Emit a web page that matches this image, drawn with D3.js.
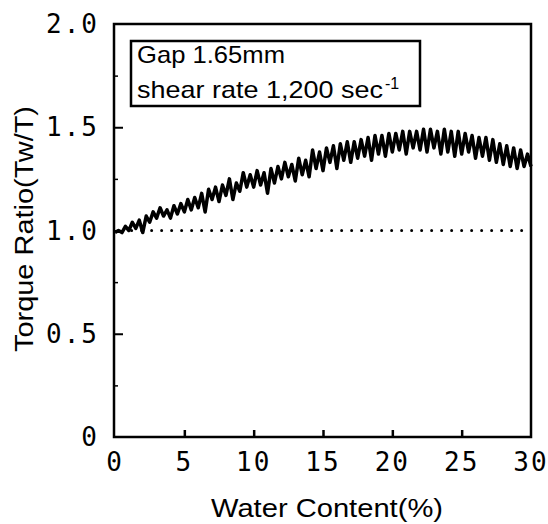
<!DOCTYPE html>
<html>
<head>
<meta charset="utf-8">
<script src="https://cdn.jsdelivr.net/npm/d3@7"></script>
<style>
  body { margin: 0; background: #fff; }
  svg { display: block; }
</style>
</head>
<body>
<div id="chart"></div>
<script>
// water content (%) sampled along the trace
var waterContent = [
  0, 0.25, 0.5, 0.75, 1, 1.25, 1.5, 1.75, 2, 2.25, 2.5, 2.75,
  3, 3.25, 3.5, 3.75, 4, 4.25, 4.5, 4.75, 5, 5.25, 5.5, 5.75,
  6, 6.25, 6.5, 6.75, 7, 7.25, 7.5, 7.75, 8, 8.25, 8.5, 8.75,
  9, 9.25, 9.5, 9.75, 10, 10.25, 10.5, 10.75, 11, 11.25, 11.5, 11.75,
  12, 12.25, 12.5, 12.75, 13, 13.25, 13.5, 13.75, 14, 14.25, 14.5, 14.75,
  15, 15.25, 15.5, 15.75, 16, 16.25, 16.5, 16.75, 17, 17.25, 17.5, 17.75,
  18, 18.25, 18.5, 18.75, 19, 19.25, 19.5, 19.75, 20, 20.25, 20.5, 20.75,
  21, 21.25, 21.5, 21.75, 22, 22.25, 22.5, 22.75, 23, 23.25, 23.5, 23.75,
  24, 24.25, 24.5, 24.75, 25, 25.25, 25.5, 25.75, 26, 26.25, 26.5, 26.75,
  27, 27.25, 27.5, 27.75, 28, 28.25, 28.5, 28.75, 29, 29.25, 29.5, 29.75,
  30
];

// torque ratio Tw/T
var torqueRatio = [
  0.99, 1.00, 0.99, 1.02, 1.00, 1.04, 1.01, 1.05, 0.99, 1.07, 1.04, 1.09,
  1.06, 1.11, 1.07, 1.10, 1.06, 1.12, 1.08, 1.13, 1.09, 1.15, 1.10, 1.16,
  1.11, 1.18, 1.09, 1.20, 1.15, 1.21, 1.14, 1.22, 1.17, 1.25, 1.15, 1.23,
  1.19, 1.28, 1.21, 1.27, 1.21, 1.29, 1.22, 1.28, 1.18, 1.30, 1.23, 1.31,
  1.25, 1.33, 1.26, 1.32, 1.24, 1.35, 1.27, 1.34, 1.26, 1.39, 1.30, 1.38,
  1.29, 1.40, 1.33, 1.41, 1.30, 1.42, 1.34, 1.43, 1.33, 1.43, 1.35, 1.44,
  1.36, 1.45, 1.34, 1.46, 1.37, 1.46, 1.36, 1.47, 1.38, 1.47, 1.39, 1.48,
  1.37, 1.48, 1.40, 1.48, 1.39, 1.49, 1.38, 1.49, 1.40, 1.48, 1.37, 1.49,
  1.38, 1.48, 1.36, 1.48, 1.37, 1.47, 1.38, 1.46, 1.35, 1.45, 1.36, 1.45,
  1.34, 1.44, 1.33, 1.42, 1.32, 1.41, 1.31, 1.40, 1.30, 1.39, 1.31, 1.37,
  1.31
];

// dotted reference line at ratio 1.0
var refLine = [[1.2, 1.0], [30, 1.0]];

var xTicks = [0, 5, 10, 15, 20, 25, 30];
var yTicks = [0, 0.5, 1.0, 1.5, 2.0];
var yTickLabels = ["0", "0.5", "1.0", "1.5", "2.0"];
var yMinorTicks = [0.25, 0.75, 1.25, 1.75];

var legendLines = ["Gap 1.65mm", "shear rate 1,200 sec"];

var W = 548, H = 524;

var svg = d3.select("#chart")
    .append("svg")
    .attr("width", W)
    .attr("height", H);

var x = d3.scaleLinear().domain([0, 30]).range([115, 531]);
var y = d3.scaleLinear().domain([0, 2]).range([437, 24]);

var tickFont = "'DejaVu Sans Mono', monospace";
var textFont = "'Liberation Sans', Arial, sans-serif";

// frame
svg.append("rect")
    .attr("x", x(0) - 1)
    .attr("y", y(2))
    .attr("width", x(30) - x(0) + 1)
    .attr("height", y(0) - y(2))
    .attr("fill", "none")
    .attr("stroke", "#000")
    .attr("stroke-width", 2.5);

// y axis: inward ticks
var yAxis = svg.append("g")
    .attr("transform", "translate(" + (x(0) - 1) + ",0)")
    .call(d3.axisRight(y).tickValues([0.5, 1.0, 1.5]).tickSize(9).tickFormat(""));
yAxis.select(".domain").remove();
yAxis.selectAll("line").attr("stroke-width", 2);

var yMinor = svg.append("g")
    .attr("transform", "translate(" + (x(0) - 1) + ",0)")
    .call(d3.axisRight(y).tickValues(yMinorTicks).tickSize(4).tickFormat(""));
yMinor.select(".domain").remove();
yMinor.selectAll("line").attr("stroke-width", 1.5);

// x axis: inward ticks
var xAxis = svg.append("g")
    .attr("transform", "translate(0," + y(0) + ")")
    .call(d3.axisTop(x).tickValues([5, 10, 15, 20, 25]).tickSize(7).tickFormat(""));
xAxis.select(".domain").remove();
xAxis.selectAll("line").attr("stroke-width", 2.5);

// tick labels
svg.append("g").selectAll("text")
    .data(yTicks)
    .enter()
    .append("text")
    .attr("x", 99)
    .attr("y", function (d) { return y(d) + 9; })
    .attr("text-anchor", "end")
    .style("font-family", tickFont)
    .style("font-size", "26px")
    .style("letter-spacing", "2px")
    .text(function (d, i) { return yTickLabels[i]; });

svg.append("g").selectAll("text")
    .data(xTicks)
    .enter()
    .append("text")
    .attr("x", function (d) { return x(d); })
    .attr("y", 471)
    .attr("text-anchor", "middle")
    .style("font-family", tickFont)
    .style("font-size", "26px")
    .style("letter-spacing", "2px")
    .text(function (d) { return d; });

// axis titles
svg.append("text")
    .attr("transform", "translate(33,229) rotate(-90)")
    .attr("text-anchor", "middle")
    .attr("textLength", 246)
    .attr("lengthAdjust", "spacingAndGlyphs")
    .style("font-family", textFont)
    .style("font-size", "25px")
    .text("Torque Ratio(Tw/T)");

svg.append("text")
    .attr("x", 327)
    .attr("y", 517)
    .attr("text-anchor", "middle")
    .attr("textLength", 232)
    .attr("lengthAdjust", "spacingAndGlyphs")
    .style("font-family", textFont)
    .style("font-size", "25px")
    .text("Water Content(%)");

// legend box
var legend = svg.append("g");
legend.append("rect")
    .attr("x", 131)
    .attr("y", 41)
    .attr("width", 289)
    .attr("height", 65)
    .attr("fill", "#fff")
    .attr("stroke", "#000")
    .attr("stroke-width", 2.5);

legend.append("text")
    .attr("x", 137)
    .attr("y", 63)
    .attr("textLength", 148)
    .attr("lengthAdjust", "spacingAndGlyphs")
    .style("font-family", textFont)
    .style("font-size", "24px")
    .text(legendLines[0]);

legend.append("text")
    .attr("x", 137)
    .attr("y", 98)
    .attr("textLength", 246)
    .attr("lengthAdjust", "spacingAndGlyphs")
    .style("font-family", textFont)
    .style("font-size", "24px")
    .text(legendLines[1]);
legend.append("text")
    .attr("x", 385)
    .attr("y", 89)
    .style("font-family", textFont)
    .style("font-size", "16px")
    .text("-1");

// reference line (dotted)
svg.append("path")
    .datum(refLine)
    .attr("fill", "none")
    .attr("stroke", "#000")
    .attr("stroke-width", 3)
    .attr("stroke-linecap", "round")
    .attr("stroke-dasharray", "0,10")
    .attr("d", d3.line()
        .x(function (d) { return x(d[0]); })
        .y(function (d) { return y(d[1]); }));

// torque trace
var trace = waterContent.map(function (w, i) { return { w: w, r: torqueRatio[i] }; });
svg.append("path")
    .datum(trace)
    .attr("fill", "none")
    .attr("stroke", "#000")
    .attr("stroke-width", 3.5)
    .attr("stroke-linejoin", "round")
    .attr("d", d3.line()
        .x(function (d) { return x(d.w); })
        .y(function (d) { return y(d.r); }));
</script>
</body>
</html>
